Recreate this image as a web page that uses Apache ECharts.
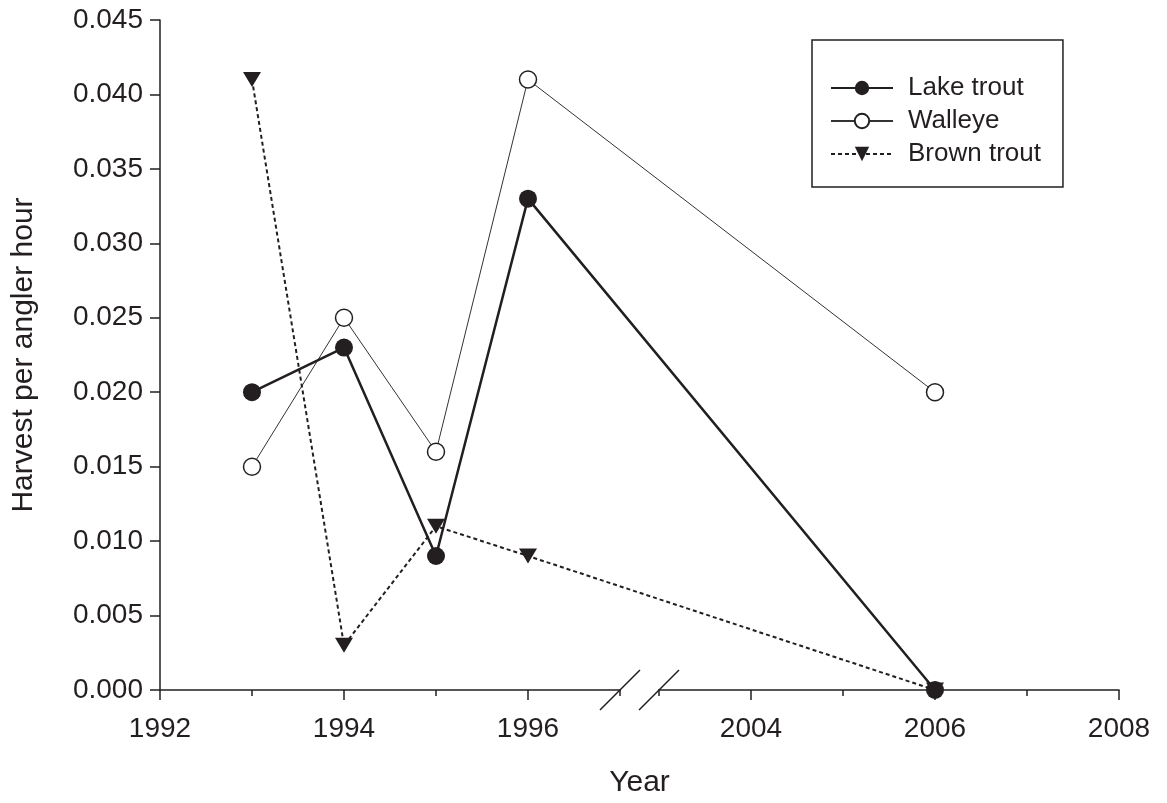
<!DOCTYPE html>
<html>
<head>
<meta charset="utf-8">
<script src="https://cdn.jsdelivr.net/npm/echarts@6/dist/echarts.min.js"></script>
<style>
html,body{margin:0;padding:0;background:#fff;}
#main{width:1167px;height:803px;}
</style>
</head>
<body>
<div id="main"></div>
<script>
// ---- data ----
const years = [1993, 1994, 1995, 1996, 2006];
const lakeTrout = [0.020, 0.023, 0.009, 0.033, 0.000];
const walleye = [0.015, 0.025, 0.016, 0.041, 0.020];
const brownTrout = [0.041, 0.003, 0.011, 0.009, 0.000];
const majorTickYears = [1992, 1994, 1996, 2004, 2006, 2008];
const minorTickYears = [1993, 1995, 1997, 2003, 2005, 2007];

// ---- broken x axis: years 1997..2003 collapsed into a small gap ----
const X_START = 1992, BREAK_FROM = 1997, BREAK_TO = 2003, BREAK_GAP = 0.424;
function xPos(y) {
  return y <= BREAK_FROM ? y - X_START : (BREAK_FROM - X_START) + BREAK_GAP + (y - BREAK_TO);
}
function yearOf(p) {
  const b = BREAK_FROM - X_START;
  return p <= b + 1e-9 ? Math.round(p + X_START) : Math.round(p - b - BREAK_GAP + BREAK_TO);
}
const X_MAX = xPos(2008);

const ink = '#231f20';
const font = 'Liberation Sans, Arial, sans-serif';

function pts(vals) { return years.map((y, i) => [xPos(y), vals[i]]); }

const chart = echarts.init(document.getElementById('main'));
const option = {
  backgroundColor: '#fff',
  animation: false,
  grid: { left: 160, right: 48, top: 20, bottom: 111 },
  xAxis: [{
    type: 'value', min: 0, max: X_MAX, position: 'bottom',
    name: 'Year', nameLocation: 'middle', nameGap: 78,
    nameTextStyle: { fontFamily: font, fontSize: 30, color: ink },
    axisLine: { show: true, lineStyle: { color: ink, width: 1.5 } },
    axisTick: { show: true, length: 10, customValues: majorTickYears.map(xPos), lineStyle: { color: ink, width: 1.5 } },
    axisLabel: { show: true, customValues: majorTickYears.map(xPos), formatter: v => String(yearOf(v)),
      fontFamily: font, fontSize: 28, color: ink, margin: 25 },
    splitLine: { show: false }
  }, {
    type: 'value', min: 0, max: X_MAX, position: 'bottom', offset: 0,
    axisLine: { show: false },
    axisTick: { show: true, length: 6, customValues: minorTickYears.map(xPos), lineStyle: { color: ink, width: 1.5 } },
    axisLabel: { show: false },
    splitLine: { show: false }
  }],
  yAxis: {
    type: 'value', min: 0, max: 0.045, interval: 0.005,
    axisLine: { show: true, lineStyle: { color: ink, width: 1.5 } },
    axisTick: { show: true, length: 10, lineStyle: { color: ink, width: 1.5 } },
    axisLabel: { formatter: v => v.toFixed(3), fontFamily: font, fontSize: 28, color: ink, margin: 17 },
    splitLine: { show: false }
  },
  legend: {
    orient: 'vertical', left: 812, top: 40,
    padding: [35, 22, 20, 18], itemGap: 7, itemWidth: 62, itemHeight: 18,
    borderColor: ink, borderWidth: 1.5, backgroundColor: '#fff',
    textStyle: { fontFamily: font, fontSize: 26, color: ink, lineHeight: 26, padding: [0, 0, 0, 10] },
    data: ['Lake trout', 'Walleye', 'Brown trout']
  },
  series: [{
    name: 'Lake trout', type: 'line', data: pts(lakeTrout), z: 5,
    symbol: 'circle', symbolSize: 18,
    lineStyle: { color: ink, width: 2.5 },
    itemStyle: { color: ink, borderColor: ink, borderWidth: 0 }
  }, {
    name: 'Walleye', type: 'line', data: pts(walleye), z: 3,
    symbol: 'circle', symbolSize: 17,
    lineStyle: { color: '#333', width: 1 },
    itemStyle: { color: '#fff', borderColor: ink, borderWidth: 1.5 }
  }, {
    name: 'Brown trout', type: 'line', data: pts(brownTrout), z: 4,
    symbol: 'triangle', symbolSize: [18, 15], symbolRotate: 180,
    lineStyle: { color: ink, width: 2, type: [4, 3] },
    itemStyle: { color: ink, borderWidth: 0 }
  }]
};
chart.setOption(option);

// axis break marks and rotated y-axis title
const pA = chart.convertToPixel({ xAxisIndex: 0, yAxisIndex: 0 }, [xPos(BREAK_FROM), 0]);
const pB = chart.convertToPixel({ xAxisIndex: 0, yAxisIndex: 0 }, [xPos(BREAK_TO), 0]);
const yTopPx = chart.convertToPixel({ yAxisIndex: 0 }, 0.045);
const yBotPx = chart.convertToPixel({ yAxisIndex: 0 }, 0);
const slash = 20;
chart.setOption({
  graphic: [
    { type: 'rect', z: 100, shape: { x: pA[0] + 1, y: pA[1] - 2, width: pB[0] - pA[0] - 2, height: 4 }, style: { fill: '#fff' } },
    { type: 'line', z: 101, shape: { x1: pA[0] - slash, y1: pA[1] + slash, x2: pA[0] + slash, y2: pA[1] - slash }, style: { stroke: ink, lineWidth: 1.5 } },
    { type: 'line', z: 101, shape: { x1: pB[0] - slash, y1: pB[1] + slash, x2: pB[0] + slash, y2: pB[1] - slash }, style: { stroke: ink, lineWidth: 1.5 } },
    { type: 'text', z: 101, x: 24, y: (yTopPx + yBotPx) / 2, rotation: Math.PI / 2,
      style: { text: 'Harvest per angler hour', font: '30px ' + font, fill: ink, textAlign: 'center', textVerticalAlign: 'middle' } }
  ]
});
</script>
</body>
</html>
